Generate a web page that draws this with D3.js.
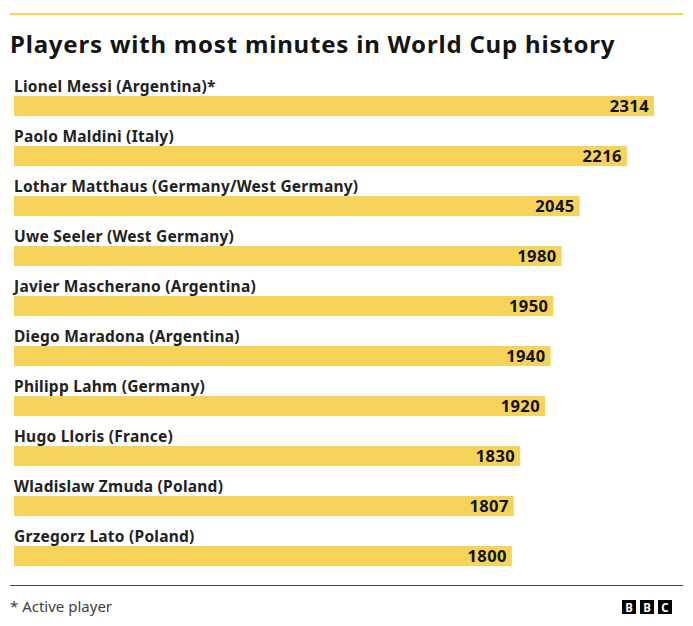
<!DOCTYPE html>
<html><head><meta charset="utf-8">
<script src="https://cdn.jsdelivr.net/npm/d3@7"></script>
<style>body{margin:0;background:#fff;}svg{display:block;}</style>
</head><body>
<script>
const players = ["Lionel Messi (Argentina)*","Paolo Maldini (Italy)","Lothar Matthaus (Germany/West Germany)","Uwe Seeler (West Germany)","Javier Mascherano (Argentina)","Diego Maradona (Argentina)","Philipp Lahm (Germany)","Hugo Lloris (France)","Wladislaw Zmuda (Poland)","Grzegorz Lato (Poland)"];
const minutes = [2314,2216,2045,1980,1950,1940,1920,1830,1807,1800];
const title = "Players with most minutes in World Cup history";
const note = "* Active player";

const W=693,H=626;
const svg=d3.select("body").append("svg").attr("width",W).attr("height",H);
const font="'Noto Sans', sans-serif";
const gold="#F6D35B";

svg.append("rect").attr("x",10).attr("y",13).attr("width",673).attr("height",2).attr("fill",gold);
svg.append("text").attr("x",10).attr("y",53).text(title)
  .attr("font-family",font).attr("font-weight",700).attr("font-size",24).attr("letter-spacing",0.8).attr("fill","#141414");

const x=d3.scaleLinear().domain([0,2314]).range([14,654]);
const y=d3.scaleBand().domain(players).range([76,576]).paddingInner(0).paddingOuter(0);

const g=svg.append("g");
const rows=g.selectAll("g").data(players).join("g").attr("transform",d=>`translate(0,${y(d)})`);
rows.append("text").attr("x",14).attr("y",15.5).text(d=>d)
  .attr("font-family",font).attr("font-weight",700).attr("font-size",15.5).attr("letter-spacing",0.25).attr("fill","#222");
rows.append("rect").attr("x",x(0)).attr("y",20).attr("height",20)
  .attr("width",(d,i)=>x(minutes[i])-x(0)).attr("fill",gold);
rows.append("text").attr("x",(d,i)=>x(minutes[i])-5).attr("y",36.3).attr("text-anchor","end")
  .text((d,i)=>minutes[i]).attr("font-family",font).attr("font-weight",700).attr("font-size",16.5).attr("letter-spacing",0.4).attr("fill","#111");

svg.append("rect").attr("x",10).attr("y",585).attr("width",673).attr("height",1).attr("fill","#444");
svg.append("text").attr("x",10).attr("y",612).text(note)
  .attr("font-family",font).attr("font-size",15).attr("fill","#404040");

const logo=svg.append("g").attr("transform","translate(622,600)");
["B","B","C"].forEach((c,i)=>{
  logo.append("rect").attr("x",i*18).attr("y",0).attr("width",14).attr("height",14).attr("fill","#000");
  logo.append("text").attr("x",i*18+7).attr("y",11.5).attr("text-anchor","middle").text(c)
    .attr("font-family",font).attr("font-weight",700).attr("font-size",11.5).attr("fill","#fff");
});
</script>
</body></html>
